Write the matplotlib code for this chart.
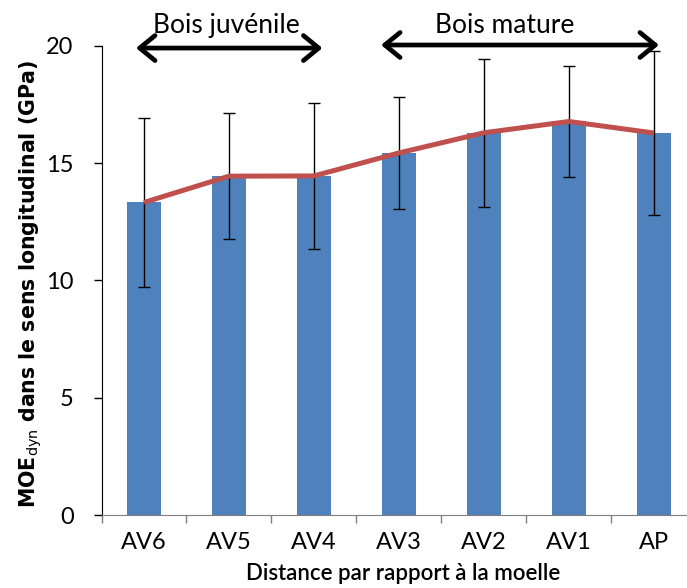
import matplotlib
matplotlib.use("Agg")
import matplotlib.pyplot as plt
import numpy as np

# MOE dynamique par position radiale (GPa)
positions = ["AV6", "AV5", "AV4", "AV3", "AV2", "AV1", "AP"]
moe_mean = [13.32, 14.44, 14.45, 15.43, 16.29, 16.77, 16.28]
moe_sd = [3.62, 2.68, 3.10, 2.40, 3.15, 2.35, 3.50]

BAR_COLOR = "#4F81BD"
LINE_COLOR = "#C0504D"
TXT_FONT = "Lato"

plt.rcParams["mathtext.fontset"] = "custom"
plt.rcParams["mathtext.bf"] = "DejaVu Sans:bold"
plt.rcParams["mathtext.rm"] = "DejaVu Sans"

fig = plt.figure(figsize=(6.87, 5.88), dpi=100)
ax = fig.add_axes([101.5 / 687, 73 / 588, 1 - 101.5 / 687, (515 - 45.7) / 588])

x = np.arange(len(positions))
ax.bar(x, moe_mean, width=0.406, color=BAR_COLOR, zorder=2)
ax.errorbar(x, moe_mean, yerr=moe_sd, fmt="none", ecolor="black",
            elinewidth=1.0, capsize=4.5, capthick=1.0, zorder=3)
ax.plot(x, moe_mean, color=LINE_COLOR, linewidth=3.6, zorder=4,
        solid_capstyle="butt")

ax.set_xlim(-0.5, 6.39)
ax.set_ylim(0, 20)
ax.set_yticks([0, 5, 10, 15, 20])

# category labels at centres, tick marks on the boundaries
ax.set_xticks(x)
ax.set_xticklabels(positions, fontfamily=TXT_FONT, fontsize=17)
ax.set_xticks(np.arange(-0.5, 6.5, 1), minor=True)
ax.tick_params(axis="x", which="major", length=0, pad=12)
ax.tick_params(axis="x", which="minor", length=6, width=1, color="#7f7f7f",
               direction="out")
ax.tick_params(axis="y", length=6, width=1, direction="out", pad=14)
for lbl in ax.get_yticklabels():
    lbl.set_fontfamily(TXT_FONT)
    lbl.set_fontsize(17)

for side in ("top", "right"):
    ax.spines[side].set_visible(False)
ax.spines["bottom"].set_color("#7f7f7f")
ax.spines["left"].set_color("black")

fig.text(403.5 / 687, 1 - 574 / 588, "Distance par rapport à la moelle",
         ha="center", va="center", fontfamily=TXT_FONT, fontsize=16,
         fontweight="semibold")
fig.text(31 / 687, 1 - 284 / 588,
         r"MOE$_{\mathrm{dyn}}$ dans le sens longitudinal (GPa)",
         rotation=90, ha="center", va="center", fontsize=14.8,
         fontweight="bold")

# zones de bois juvénile / mature
arrow_style = dict(arrowstyle="<->, head_length=0.55, head_width=0.45",
                   lw=3.4, color="black", shrinkA=0, shrinkB=0,
                   mutation_scale=20)
ax.annotate("", xy=(2.10, 19.9), xytext=(-0.094, 19.9),
            arrowprops=arrow_style, annotation_clip=False)
ax.annotate("", xy=(6.06, 20.03), xytext=(2.79, 20.03),
            arrowprops=arrow_style, annotation_clip=False)
ax.text(0.965, 20.54, "Bois juvénile", ha="center", va="baseline",
        fontfamily=TXT_FONT, fontsize=19, clip_on=False)
ax.text(4.25, 20.54, "Bois mature", ha="center", va="baseline",
        fontfamily=TXT_FONT, fontsize=19, clip_on=False)

fig.savefig("out.png", dpi=100)
